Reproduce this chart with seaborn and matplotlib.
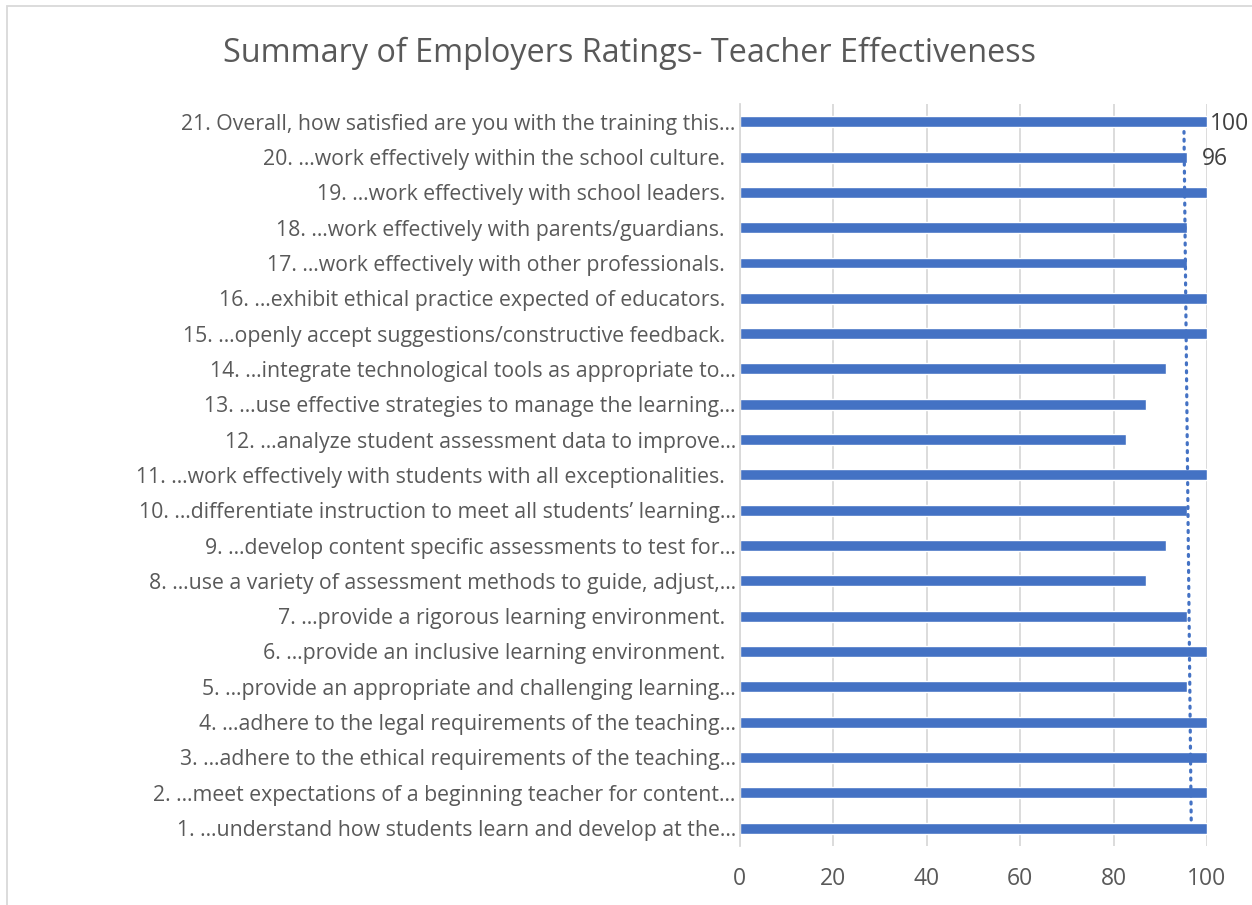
import numpy as np
import pandas as pd
import matplotlib
matplotlib.use("Agg")
import matplotlib.pyplot as plt
import seaborn as sns
from matplotlib.patches import Rectangle

categories = [
    "1. …understand how students learn and develop at the…",
    "2. …meet expectations of a beginning teacher for content…",
    "3. …adhere to the ethical requirements of the teaching…",
    "4. …adhere to the legal requirements of the teaching…",
    "5. …provide an appropriate and challenging learning…",
    "6. …provide an inclusive learning environment.  ",
    "7. …provide a rigorous learning environment.  ",
    "8. …use a variety of assessment methods to guide, adjust,…",
    "9. …develop content specific assessments to test for…",
    "10. …differentiate instruction to meet all students’ learning…",
    "11. …work effectively with students with all exceptionalities.  ",
    "12. …analyze student assessment data to improve…",
    "13. …use effective strategies to manage the learning…",
    "14. …integrate technological tools as appropriate to…",
    "15. …openly accept suggestions/constructive feedback.  ",
    "16. …exhibit ethical practice expected of educators.  ",
    "17. …work effectively with other professionals.  ",
    "18. …work effectively with parents/guardians.  ",
    "19. …work effectively with school leaders.  ",
    "20. …work effectively within the school culture.  ",
    "21. Overall, how satisfied are you with the training this…",
]
values = [100, 100, 100, 100, 95.65, 100, 95.65, 86.96, 91.30, 95.65, 100,
          82.61, 86.96, 91.30, 100, 100, 95.65, 95.65, 100, 95.65, 100]
labelled = {"21. Overall, how satisfied are you with the training this…": "100",
            "20. …work effectively within the school culture.  ": "96"}
x_ticks = [0, 20, 40, 60, 80, 100]

BLUE = "#4472C4"
TXT = "#595959"
GRID = "#D9D9D9"
FONT = ["Open Sans", "DejaVu Sans"]

sns.set_theme(style="white")
plt.rcParams["font.family"] = FONT

df = pd.DataFrame({"item": categories, "score": values})
order = categories[::-1]

fig = plt.figure(figsize=(12.52, 9.05), dpi=100)
ax = fig.add_axes([0.591, 0.0655, 0.373, 0.8195])

sns.barplot(data=df, y="item", x="score", order=order, orient="h",
            color=BLUE, saturation=1, width=0.31, ax=ax)

# linear trendline (Excel-style) over category index 1..21
idx = np.arange(1, len(values) + 1)
slope, intercept = np.polyfit(idx, values, 1)
trend_idx = np.array([1.23, 20.72])
trend_x = slope * trend_idx + intercept
trend_y = len(values) - trend_idx  # positions in seaborn's top-down order
ax.plot(trend_x, trend_y, color=BLUE, linestyle=(0, (0.6, 1.9)),
        linewidth=2.3, dash_capstyle="round")

# data labels
offsets = {"100": 2, "96": 11}
for i, cat in enumerate(order):
    if cat in labelled:
        txt = labelled[cat]
        v = values[categories.index(cat)]
        ax.annotate(txt, (v, i), xytext=(offsets[txt], -1.5),
                    textcoords="offset points", va="center", ha="left",
                    fontsize=16.5, color="#404040")

ax.set_xlim(0, 100)
ax.set_ylim(len(values) - 0.5, -0.5)
ax.set_xticks(x_ticks)
ax.set_xlabel("")
ax.set_ylabel("")
ax.xaxis.grid(True, color=GRID, linewidth=1.3)
ax.set_axisbelow(True)
for s in ["top", "right", "bottom"]:
    ax.spines[s].set_visible(False)
ax.spines["left"].set_color(GRID)
ax.spines["left"].set_linewidth(1.3)
ax.tick_params(axis="x", length=0, pad=15, labelsize=16.5, labelcolor=TXT)
ax.tick_params(axis="y", length=0, pad=3, labelsize=15.3, labelcolor=TXT)

fig.text(0.503, 0.941, "Summary of Employers Ratings- Teacher Effectiveness",
         ha="center", va="center", fontsize=23.3, color=TXT)

fig.patches.append(Rectangle((7 / 1252, -0.05), 1.2, 1 - 6 / 905 + 0.05,
                             transform=fig.transFigure, fill=False,
                             edgecolor=GRID, linewidth=1.3))

fig.savefig("out.png", dpi=100)
